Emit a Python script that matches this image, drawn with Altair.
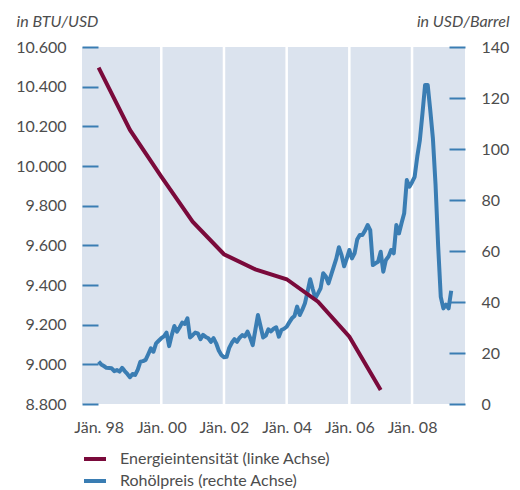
import altair as alt
import pandas as pd

# ---------------- data ----------------
label_energy = "Energieintensität (linke Achse)"
label_oil = "Rohölpreis (rechte Achse)"

energy_years = [1998, 1999, 2000, 2001, 2002, 2003, 2004, 2005, 2006, 2007]
energy_values = [10496, 10182, 9946, 9719, 9555, 9479, 9429, 9316, 9139, 8871]

oil_1998 = [16.6, 15.5, 14.9, 14.2, 14.1, 14.0, 12.9, 13.3, 12.7, 14.2, 12.9, 11.8]
oil_1999 = [10.5, 11.8, 11.4, 13.5, 16.6, 16.8, 17.3, 19.5, 21.8, 20.5, 23.8, 24.8]
oil_2000 = [25.8, 26.5, 28.0, 22.7, 27.0, 30.6, 28.4, 30.0, 31.9, 31.4, 33.6, 26.1]
oil_2001 = [27.0, 28.0, 27.7, 25.4, 27.1, 26.3, 25.8, 24.4, 25.8, 23.8, 21.0, 19.2]
oil_2002 = [18.3, 18.5, 22.0, 24.0, 25.4, 24.4, 26.0, 27.0, 26.5, 28.4, 26.0, 23.1]
oil_2003 = [29.0, 34.9, 30.5, 26.1, 26.8, 29.3, 28.5, 29.5, 30.1, 26.4, 29.0, 29.5]
oil_2004 = [30.3, 32.0, 33.6, 34.5, 38.2, 34.9, 37.0, 39.5, 44.0, 48.9, 45.0, 41.5]
oil_2005 = [43.4, 45.4, 51.3, 50.0, 47.3, 50.5, 53.8, 57.0, 61.5, 58.5, 54.0, 57.0]
oil_2006 = [60.4, 57.1, 59.1, 64.5, 66.3, 66.3, 68.0, 70.2, 68.2, 54.5, 55.2, 55.8]
oil_2007 = [59.7, 51.9, 56.5, 57.8, 60.4, 59.1, 70.2, 66.9, 71.0, 74.8, 87.8, 85.2]
oil_2008 = [87.0, 89.1, 97.0, 103.5, 114.0, 125.1, 125.1, 115.0, 104.0, 86.0, 62.0, 42.0]
oil_2009 = [37.5, 39.0, 37.5, 44.4]

tick_years = [1998, 2000, 2002, 2004, 2006, 2008]
grid_years = [2000, 2002, 2004, 2006, 2008]
left_ticks = [8800, 9000, 9200, 9400, 9600, 9800, 10000, 10200, 10400, 10600]
right_ticks = [0, 20, 40, 60, 80, 100, 120, 140]

# ---------------- tables ----------------
oil_values = (oil_1998 + oil_1999 + oil_2000 + oil_2001 + oil_2002 + oil_2003
              + oil_2004 + oil_2005 + oil_2006 + oil_2007 + oil_2008 + oil_2009)
df_oil = pd.DataFrame({
    "t": [1998 + i / 12 for i in range(len(oil_values))],
    "v": oil_values,
    "s": label_oil,
})
df_energy = pd.DataFrame({"t": energy_years, "v": energy_values, "s": label_energy})
df_grid = pd.DataFrame({"t": grid_years})

# ---------------- style ----------------
RED = "#7a0a3b"
BLUE = "#3a7db3"
BG = "#dbe3ee"
TXT = "#4d4d4d"
FONT = "Lato"

x_scale = alt.Scale(domain=[1997.47, 2009.69], nice=False, zero=False)
x_axis = alt.Axis(
    values=tick_years,
    labelExpr="'Jän. ' + substring(toString(datum.value), 2, 4)",
    domain=False, ticks=False, grid=False, labelPadding=15,
    labelFont=FONT, labelFontSize=16, labelColor=TXT, title=None,
)
X = alt.X("t:Q", scale=x_scale, axis=x_axis)

color_scale = alt.Scale(domain=[label_energy, label_oil], range=[RED, BLUE])
legend = alt.Legend(
    title=None, orient="none", legendX=0, legendY=399, direction="vertical",
    symbolType="stroke", symbolStrokeWidth=4, symbolSize=484,
    labelFont=FONT, labelFontSize=16, labelColor=TXT, labelOffset=12,
    labelLimit=0, rowPadding=1, padding=0,
)

common_axis = dict(
    offset=-16, tickSize=16, tickWidth=2, tickColor=BLUE, domain=False, grid=False,
    labelPadding=16, labelFont=FONT, labelFontSize=16, labelColor=TXT,
    titleAngle=0, titleBaseline="alphabetic", titleY=-21,
    titleFont=FONT, titleFontSize=16, titleFontStyle="italic",
    titleFontWeight="normal", titleColor=TXT,
)

grid = alt.Chart(df_grid).mark_rule(color="white", strokeWidth=2.5).encode(x=X)

oil_line = alt.Chart(df_oil).mark_line(strokeWidth=4, strokeJoin="round").encode(
    x=X,
    y=alt.Y("v:Q",
            scale=alt.Scale(domain=[0, 140], nice=False, zero=False),
            axis=alt.Axis(orient="right", values=right_ticks, title="in USD/Barrel",
                          titleAlign="right", titleX=60, **common_axis)),
    color=alt.Color("s:N", scale=color_scale, legend=legend),
)

energy_line = alt.Chart(df_energy).mark_line(strokeWidth=4).encode(
    x=X,
    y=alt.Y("v:Q",
            scale=alt.Scale(domain=[8800, 10600], nice=False, zero=False),
            axis=alt.Axis(orient="left", values=left_ticks, title="in BTU/USD",
                          titleAlign="left", titleX=-82,
                          labelExpr="replace(format(datum.value, ','), ',', '.')",
                          **common_axis)),
    color=alt.Color("s:N", scale=color_scale, legend=legend),
)

chart = (
    alt.layer(grid, oil_line, energy_line)
    .resolve_scale(y="independent")
    .properties(
        width=383, height=357,
        autosize=alt.AutoSizeParams(type="none"),
        padding={"left": 74, "top": 39, "right": 47, "bottom": 86},
        background="white",
    )
    .configure_view(fill=BG, stroke=None)
)

chart.save("out.html", embed_options={"renderer": "svg", "actions": False})
